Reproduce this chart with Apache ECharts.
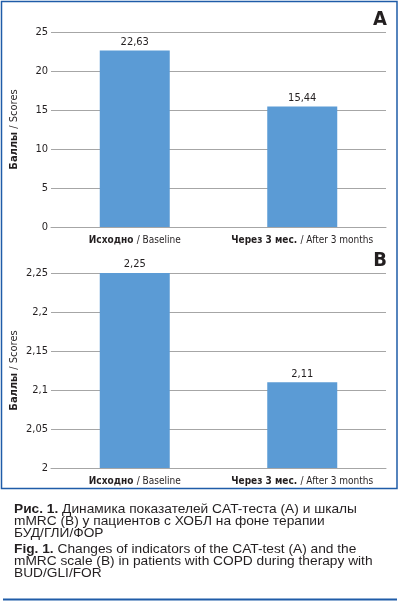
<!DOCTYPE html>
<html><head><meta charset="utf-8">
<script src="https://cdn.jsdelivr.net/npm/echarts@6/dist/echarts.min.js"></script>
<style>html,body{margin:0;padding:0;background:#fff}#c{width:400px;height:602px}</style>
</head><body><div id="c"></div>
<script>
const categories = ['Исходно / Baseline', 'Через 3 мес. / After 3 months'];
const catScores = [22.63, 15.44];
const mmrcScores = [2.25, 2.11];
const ticksA = {min: 0, max: 25, interval: 5};
const ticksB = {min: 2, max: 2.25, interval: 0.05};
const yName = 'Баллы / Scores';

const NF = '"Liberation Sans Narrow","DejaVu Sans Condensed",sans-serif';
const fmtNum = v => String(parseFloat(Number(v).toFixed(2))).replace('.', ',');
function splitLabel(s){ const i = s.indexOf(' / '); return '{b|' + s.slice(0,i) + '} {n|' + s.slice(i+1) + '}'; }
const richCat = {
  b:{fontFamily:NF,fontWeight:'bold',fontSize:10,color:'#231f20'},
  n:{fontFamily:NF,fontSize:10,color:'#231f20'}
};
const richName = {
  b:{fontFamily:NF,fontWeight:'bold',fontSize:11,color:'#231f20'},
  n:{fontFamily:NF,fontSize:11,color:'#231f20'}
};

function xAx(idx){
  return {type:'category',gridIndex:idx,data:categories,
    axisLine:{show:true,lineStyle:{color:'#a6a6a6',width:1}},
    axisTick:{show:false},
    axisLabel:{interval:0,margin:7,formatter:splitLabel,rich:richCat}};
}
function yAx(idx,t){
  return {type:'value',gridIndex:idx,min:t.min,max:t.max,interval:t.interval,
    name:splitLabel(yName),nameLocation:'middle',nameRotate:90,nameGap:31,nameMoveOverlap:false,
    nameTextStyle:{rich:richName},
    axisLine:{show:false},axisTick:{show:false},
    splitLine:{lineStyle:{color:'#a6a6a6',width:1}},
    axisLabel:{margin:3,fontFamily:NF,fontSize:11,color:'#231f20',formatter:fmtNum}};
}
function bar(idx,data){
  return {type:'bar',xAxisIndex:idx,yAxisIndex:idx,data:data,barWidth:70,
    itemStyle:{color:'#5b9bd5'},
    label:{show:true,position:'top',distance:3,fontFamily:NF,fontSize:11,color:'#231f20',formatter:p=>fmtNum(p.value)},
    silent:true};
}
const CF = '"Liberation Sans",Arial,sans-serif';
function caption(text, y){
  return {type:'text',x:14,y:y,scaleX:1.09,scaleY:1,originX:0,originY:0,silent:true,
    style:{text:text,font:'12.6px '+CF,fill:'#231f20',lineHeight:12.4,align:'left',verticalAlign:'top',
      rich:{b:{fontWeight:'bold',fontSize:12.6,fontFamily:CF,fill:'#231f20',lineHeight:12.4}}}};
}
const chart = echarts.init(document.getElementById('c'),null,{renderer:'canvas'});
chart.setOption({
  animation:false,
  grid:[
    {left:51,right:14,top:32,bottom:602-227,outerBoundsMode:'none',containLabel:false},
    {left:51,right:14,top:273,bottom:602-468,outerBoundsMode:'none',containLabel:false}
  ],
  xAxis:[xAx(0),xAx(1)],
  yAxis:[yAx(0,ticksA),yAx(1,ticksB)],
  series:[bar(0,catScores),bar(1,mmrcScores)],
  graphic:[
    {type:'rect',shape:{x:1.5,y:1.5,width:395.5,height:487},style:{fill:null,stroke:'#1f5ca8',lineWidth:1.5},silent:true},
    {type:'text',right:13,top:10,style:{text:'A',font:'bold 20px '+NF,fill:'#231f20'}},
    {type:'text',right:13,top:251,style:{text:'B',font:'bold 20px '+NF,fill:'#231f20'}},
    caption('{b|Рис. 1.} Динамика показателей CAT-теста (A) и шкалы\nmMRC (B) у пациентов с ХОБЛ на фоне терапии\nБУД/ГЛИ/ФОР', 503),
    caption('{b|Fig. 1.} Changes of indicators of the CAT-test (A) and the\nmMRC scale (B) in patients with COPD during therapy with\nBUD/GLI/FOR', 543),
    {type:'rect',shape:{x:3,y:598.5,width:394,height:2},style:{fill:'#1f5ca8'},silent:true}
  ]
});
</script></body></html>
